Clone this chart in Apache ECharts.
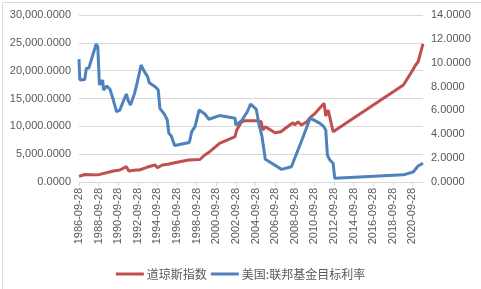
<!DOCTYPE html>
<html>
<head>
<meta charset="utf-8">
<script src="https://cdn.jsdelivr.net/npm/echarts@6/dist/echarts.min.js"></script>
<style>
html,body{margin:0;padding:0;background:#fff;}
#c{width:481px;height:289px;}
</style>
</head>
<body>
<div id="c"></div>
<script>
var seriesNames = ['道琼斯指数', '美国:联邦基金目标利率'];

var dowDates = ['1986-09','1987-04','1988-08','1989-09','1990-03','1990-11','1991-07','1991-10','1992-07','1992-11',
  '1993-08','1994-06','1994-09','1995-03','1995-10','1996-06','1997-11','1998-01','1999-01','1999-07',
  '2000-01','2001-01','2002-08','2002-10','2003-04','2003-08','2004-10','2005-04','2005-06','2005-09',
  '2006-09','2007-04','2008-03','2008-07','2008-09','2009-01','2009-05','2009-12','2010-04','2010-10',
  '2011-09','2011-11','2012-02','2012-08','2019-10','2020-08','2021-01','2021-04','2021-10'];
var dowValues = [1000,1350,1280,1740,1980,2150,2750,1980,2150,2160,
  2640,3050,2570,3050,3180,3470,3950,3680,4040,4850,
  5440,6950,8170,9340,10830,11000,11000,10830,9340,9930,
  8850,9030,10240,10650,10240,10830,10240,10830,11620,12340,
  14130,11850,12930,9030,17420,19750,21000,21600,24800];

var rateDates = ['1986-09','1986-10','1987-04','1987-06','1987-09','1988-06','1988-08','1988-10','1989-02','1989-03',
  '1989-07','1989-11','1990-03','1990-07','1990-11','1991-03','1991-07','1991-09','1991-12','1992-05',
  '1992-08','1992-10','1993-01','1993-03','1993-05','1993-09','1993-11','1994-07','1994-10','1994-12',
  '1995-06','1995-09','1995-11','1996-02','1996-06','1997-12','1998-03','1998-07','1998-12','1999-07',
  '1999-12','2001-01','2002-08','2002-09','2003-04','2003-11','2004-03','2004-10','2005-01','2005-05',
  '2005-09','2007-05','2008-05','2008-09','2009-05','2010-04','2011-04','2011-08','2011-11','2012-01',
  '2012-04','2012-08','2012-10','2019-10','2020-10','2021-04','2021-10'];
var rateValues = [10.3,8.55,8.6,9.53,9.55,11.57,11.34,8.13,8.55,7.71,
  8.05,7.77,6.87,5.89,6.03,6.73,7.38,6.87,6.45,7.43,
  8.27,8.41,9.81,9.95,9.25,8.83,8.32,7.94,7.71,6.18,
  5.62,5.2,4.08,3.86,3.06,3.31,4.22,4.64,6.04,5.7,
  5.26,5.57,5.34,4.78,5.14,5.89,6.54,6.09,4.92,3.8,
  1.9,1.06,1.28,1.99,3.38,5.36,4.92,4.69,4.36,2.26,
  1.84,1.57,0.31,0.6,0.84,1.34,1.57];

var startYear = 1986, startMonth = 9, tickDay = '-09-28';
var leftAxisMax = 30000, leftAxisStep = 5000;
var rightAxisMax = 14, rightAxisStep = 2;
var lastMonthIndex = 421;

function monthIndex(d) {
  var p = d.split('-');
  return (parseInt(p[0], 10) - startYear) * 12 + (parseInt(p[1], 10) - startMonth);
}
function pairs(dates, vals) {
  return dates.map(function (d, i) { return [monthIndex(d), vals[i]]; });
}
function fmtThousands(v) {
  var s = Math.round(v).toString().replace(/\B(?=(\d{3})+(?!\d))/g, ',');
  return s + '.0000';
}

var chart = echarts.init(document.getElementById('c'), null, {renderer: 'canvas'});
var labelColor = '#595959';
var font = 'Liberation Sans, Arial, sans-serif';

chart.setOption({
  animation: false,
  backgroundColor: '#ffffff',
  graphic: [{
    type: 'rect', left: 0, top: 0, silent: true,
    shape: {x: 0.5, y: 0.5, width: 480, height: 288},
    style: {fill: 'none', stroke: '#d9d9d9', lineWidth: 1}
  }],
  grid: {left: 79, right: 58, top: 15, bottom: 107, containLabel: false, outerBoundsMode: 'none'},
  legend: {
    data: seriesNames,
    left: 'center',
    top: 263,
    icon: 'rect',
    itemWidth: 28,
    itemHeight: 3,
    itemGap: 4,
    textStyle: {color: labelColor, fontSize: 12, fontFamily: 'Noto Sans CJK SC, sans-serif', padding: [0, 0, 0, -2]}
  },
  xAxis: {
    type: 'value',
    min: 0,
    max: lastMonthIndex,
    interval: 24,
    splitLine: {show: false},
    axisLine: {show: true, lineStyle: {color: '#d9d9d9', width: 1}},
    axisTick: {show: true, length: 4, lineStyle: {color: '#d9d9d9'}},
    axisLabel: {
      rotate: 90,
      margin: 6,
      showMaxLabel: false,
      color: labelColor,
      fontSize: 11,
      fontFamily: font,
      formatter: function (v) {
        if (v % 24 !== 0) return '';
        return (startYear + v / 12) + tickDay;
      }
    }
  },
  yAxis: [{
    type: 'value',
    min: 0, max: leftAxisMax, interval: leftAxisStep,
    axisLine: {show: false}, axisTick: {show: false},
    splitLine: {show: true, lineStyle: {color: '#d9d9d9', width: 1}},
    axisLabel: {color: labelColor, fontSize: 11, fontFamily: font, margin: 8, formatter: fmtThousands}
  }, {
    type: 'value',
    min: 0, max: rightAxisMax, interval: rightAxisStep,
    axisLine: {show: false}, axisTick: {show: false},
    splitLine: {show: false},
    axisLabel: {color: labelColor, fontSize: 11, fontFamily: font, margin: 8,
      formatter: function (v) { return v.toFixed(4); }}
  }],
  series: [{
    name: seriesNames[0],
    type: 'line',
    yAxisIndex: 0,
    data: pairs(dowDates, dowValues),
    showSymbol: false,
    symbol: 'none',
    lineStyle: {color: '#C0504D', width: 3},
    itemStyle: {color: '#C0504D'}
  }, {
    name: seriesNames[1],
    type: 'line',
    yAxisIndex: 1,
    data: pairs(rateDates, rateValues),
    showSymbol: false,
    symbol: 'none',
    lineStyle: {color: '#4F81BD', width: 3},
    itemStyle: {color: '#4F81BD'}
  }]
});
</script>
</body>
</html>
